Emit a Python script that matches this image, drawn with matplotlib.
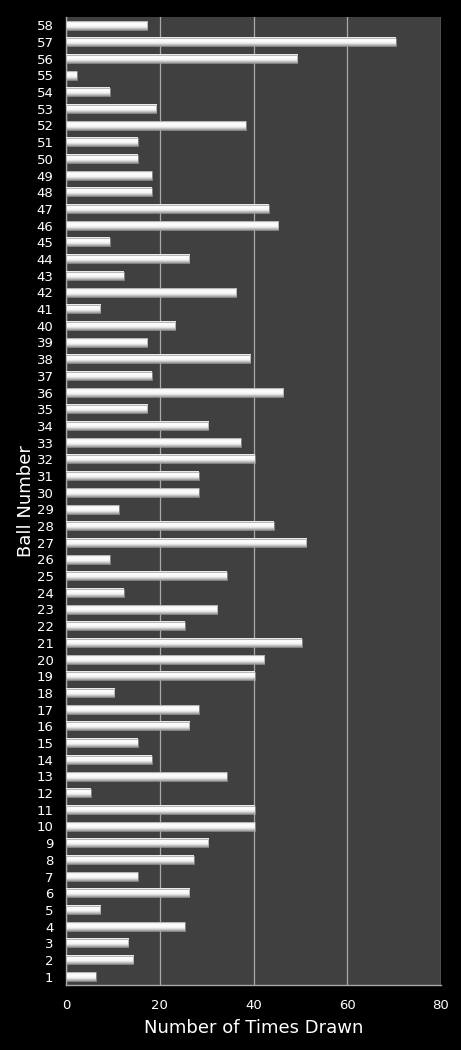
import numpy as np
import matplotlib
matplotlib.use('Agg')
import matplotlib.pyplot as plt
from matplotlib.colors import LinearSegmentedColormap

# ball numbers and how often each was drawn
balls = list(range(1, 59))
times_drawn = [6, 14, 13, 25, 7, 26, 15, 27, 30, 40,
               40, 5, 34, 18, 15, 26, 28, 10, 40, 42,
               50, 25, 32, 12, 34, 9, 51, 44, 11, 28,
               28, 40, 37, 30, 17, 46, 18, 39, 17, 23,
               7, 36, 12, 26, 9, 45, 43, 18, 18, 15,
               15, 38, 19, 9, 2, 49, 70, 17]
x_ticks = [0, 20, 40, 60, 80]

fig = plt.figure(figsize=(4.61, 10.5), dpi=100, facecolor='black')
ax = fig.add_axes([0.1432, 0.0619, 0.8134, 0.9219])
ax.set_facecolor('#404040')

# shading for the bars: light top, white middle, grey bottom
shade = LinearSegmentedColormap.from_list('bar', ['#e6e6e6', '#ffffff', '#f2f2f2', '#9a9a9a'])
grad = np.linspace(0, 1, 64).reshape(-1, 1)
h = 0.5
for b, v in zip(balls, times_drawn):
    ax.imshow(grad, cmap=shade, aspect='auto', interpolation='bilinear',
              extent=(0, v + 0.3, b - h / 2, b + h / 2), origin='upper', zorder=3)
    ax.barh(b, v + 0.3, height=h, color='none', edgecolor='#a0a0a0', linewidth=0.5, zorder=4)

ax.set_xlim(0, 80)
ax.set_ylim(0.5, 58.5)
ax.set_xticks(x_ticks)
ax.set_yticks(balls)
ax.set_yticklabels([str(b) for b in balls])
ax.xaxis.grid(True, color='#a8a8a8', linewidth=0.9)
ax.set_axisbelow(True)

for s in ['top', 'right']:
    ax.spines[s].set_visible(False)
for s in ['left', 'bottom']:
    ax.spines[s].set_color('#a8a8a8')
    ax.spines[s].set_linewidth(1.0)

ax.tick_params(axis='both', length=0, colors='white', labelsize=9.5)
ax.tick_params(axis='y', pad=9)
ax.tick_params(axis='x', pad=10)

ax.set_xlabel('Number of Times Drawn', color='white', fontsize=13, labelpad=5)
ax.set_ylabel('Ball Number', color='white', fontsize=13, labelpad=1)

fig.savefig('out.png', dpi=100, facecolor='black')
